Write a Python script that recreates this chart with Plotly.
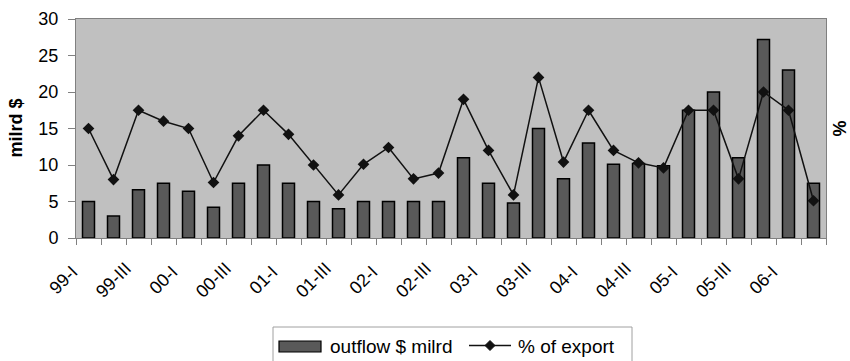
import plotly.graph_objects as go

# Quarterly capital outflow (billion $) and its share of exports (%)
quarters = [f"{y}-{q}" for y in ["99", "00", "01", "02", "03", "04", "05", "06"]
            for q in ["I", "II", "III", "IV"]][:30]
outflow = [5.0, 3.0, 6.6, 7.5, 6.4, 4.2, 7.5, 10.0, 7.5, 5.0,
           4.0, 5.0, 5.0, 5.0, 5.0, 11.0, 7.5, 4.8, 15.0, 8.1,
           13.0, 10.1, 10.2, 9.9, 17.5, 20.0, 11.0, 27.2, 23.0, 7.5]
share_of_export = [15.0, 8.0, 17.5, 16.0, 15.0, 7.6, 14.0, 17.5, 14.2, 10.0,
                   5.9, 10.1, 12.4, 8.1, 8.9, 19.0, 12.0, 5.9, 22.0, 10.4,
                   17.5, 12.0, 10.3, 9.6, 17.5, 17.5, 8.1, 20.0, 17.5, 5.1]
y_ticks = [0, 5, 10, 15, 20, 25, 30]
series_names = ["outflow $ milrd", "% of export"]

# every other quarter gets a slanted label
labelled_quarters = quarters[::2]

FONT = "Liberation Sans, Arial, sans-serif"
W, H = 850, 361
L, R, T, B = 76, 24, 19, 123
PW, PH = W - L - R, H - T - B


def px(x):
    return (x - L) / PW


def py(y):
    return (H - B - y) / PH


BAR_FILL = "#595959"
LINE_COLOR = "#111111"

fig = go.Figure()
fig.add_trace(go.Bar(
    x=quarters, y=outflow, name=series_names[0],
    marker=dict(color=BAR_FILL, line=dict(color="#000000", width=1.5)),
    xaxis="x", yaxis="y",
))
fig.add_trace(go.Scatter(
    x=quarters, y=share_of_export, name=series_names[1], mode="lines+markers",
    line=dict(color=LINE_COLOR, width=1.5),
    marker=dict(symbol="diamond", size=9, color=LINE_COLOR),
    xaxis="x2", yaxis="y",
))

axis_common = dict(type="category", range=[-0.5, len(quarters) - 0.5],
                   categoryorder="array", categoryarray=quarters,
                   showgrid=False, automargin=False)

# legend drawn as a framed box below the chart
shapes = [
    dict(type="rect", xref="paper", yref="paper",
         x0=px(273), x1=px(632), y0=py(372), y1=py(327),
         line=dict(color="#a0a0a0", width=1), fillcolor="white", layer="above"),
    dict(type="rect", xref="paper", yref="paper",
         x0=px(279), x1=px(321), y0=py(352), y1=py(341),
         line=dict(color="#000000", width=1.2), fillcolor=BAR_FILL, layer="above"),
    dict(type="line", xref="paper", yref="paper",
         x0=px(469), x1=px(511), y0=py(345.5), y1=py(345.5),
         line=dict(color=LINE_COLOR, width=1.5), layer="above"),
    dict(type="path", xref="paper", yref="paper",
         path=(f"M {px(490)} {py(340.5)} L {px(495)} {py(345.5)} "
               f"L {px(490)} {py(350.5)} L {px(485)} {py(345.5)} Z"),
         line=dict(color=LINE_COLOR, width=1), fillcolor=LINE_COLOR, layer="above"),
]

annotations = [
    dict(text="<b>milrd $</b>", xref="paper", yref="paper", x=0.0, y=0.5,
         xanchor="center", yanchor="middle", xshift=-61, textangle=-90,
         showarrow=False, font=dict(size=18)),
    dict(text="<b>%</b>", xref="paper", yref="paper", x=1.0, y=0.5,
         xanchor="center", yanchor="middle", xshift=13, textangle=-90,
         showarrow=False, font=dict(size=18)),
    dict(text=series_names[0], xref="paper", yref="paper", x=px(328), y=py(346),
         xanchor="left", yanchor="middle", showarrow=False, font=dict(size=19)),
    dict(text=series_names[1], xref="paper", yref="paper", x=px(516), y=py(346),
         xanchor="left", yanchor="middle", showarrow=False, font=dict(size=19)),
]
# slanted quarter labels under the axis
for q in labelled_quarters:
    annotations.append(dict(
        text=q, xref="x", yref="y", x=q, y=0, xanchor="center", yanchor="middle",
        xshift=-25, yshift=-42, textangle=-45, showarrow=False, font=dict(size=18),
    ))

fig.update_layout(
    width=W, height=H,
    margin=dict(l=L, r=R, t=T, b=B),
    paper_bgcolor="white", plot_bgcolor="#c0c0c0",
    bargap=0.52,
    font=dict(family=FONT, size=16, color="#000000"),
    showlegend=False,
    xaxis=dict(
        **axis_common, showticklabels=False, ticks="",
        showline=True, linecolor="#808080", mirror=True,
    ),
    xaxis2=dict(
        **axis_common, overlaying="x", side="bottom", tickson="boundaries",
        ticks="outside", ticklen=6, tickcolor="#808080", showticklabels=False,
        showline=False,
    ),
    yaxis=dict(
        range=[0, 30], tickvals=y_ticks, ticks="outside", ticklen=7,
        ticklabelstandoff=6,
        tickcolor="#808080", showline=True, linecolor="#808080", mirror=True,
        showgrid=False, zeroline=False, tickfont=dict(size=18), automargin=False,
    ),
    shapes=shapes,
    annotations=annotations,
)

fig.write_html("out.html")
